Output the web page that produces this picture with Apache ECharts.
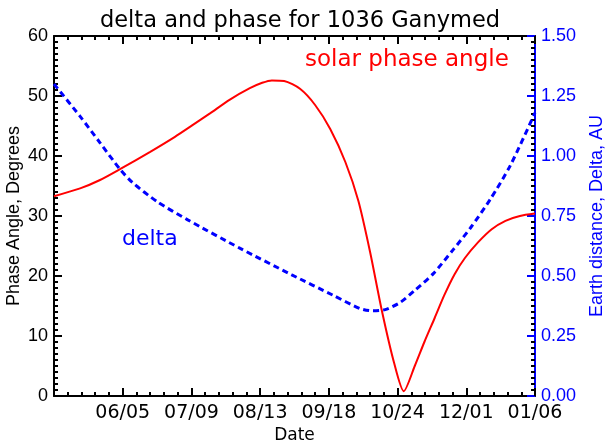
<!DOCTYPE html>
<html>
<head>
<meta charset="utf-8">
<script src="https://cdn.jsdelivr.net/npm/echarts@6/dist/echarts.min.js"></script>
<style>
  html, body { margin: 0; padding: 0; background: #fff; }
  #chart { width: 608px; height: 445px; }
</style>
</head>
<body>
<div id="chart"></div>
<script>
// x positions are in units of major ticks (0 = left edge, 7 = right edge)
const tickLabels = ['', '06/05', '07/09', '08/13', '09/18', '10/24', '12/01', '01/06']

const phaseX = [0, 0.38, 0.67, 0.96, 1.40, 1.76, 2.01, 2.27, 2.56, 2.85, 3.03, 3.17, 3.35, 3.58, 3.80,
  4.02, 4.24, 4.43, 4.60, 4.77, 4.95, 5.09, 5.25, 5.39, 5.54, 5.68, 5.83, 5.98, 6.17, 6.37, 6.57, 6.78, 7.0]
const phaseDeg = [33.3, 34.6, 36.0, 37.8, 40.7, 43.2, 45.1, 47.1, 49.4, 51.3, 52.2, 52.6, 52.5, 51.2, 48.5,
  44.5, 39.0, 32.5, 24.0, 14.3, 5.5, 0.8, 5.0, 9.0, 13.0, 16.8, 20.3, 23.0, 25.6, 27.8, 29.2, 30.0, 30.4]

const deltaX = [0, 0.38, 0.67, 0.96, 1.14, 1.50, 1.94, 2.71, 3.46, 4.06, 4.45, 4.63, 4.82,
  5.04, 5.25, 5.52, 5.81, 6.06, 6.35, 6.64, 7.0]
const deltaAU = [1.30, 1.165, 1.055, 0.945, 0.89, 0.81, 0.735, 0.615, 0.505, 0.42, 0.365, 0.355, 0.36,
  0.39, 0.44, 0.51, 0.61, 0.70, 0.82, 0.96, 1.18]

const RED = '#ff0000'
const BLUE = '#0000ff'
const hershey = '"DejaVu Sans", sans-serif'
const helv = '"Liberation Sans", Arial, sans-serif'

const chart = echarts.init(document.getElementById('chart'))

function xAxisBase(pos) {
  return {
    type: 'value',
    position: pos,
    min: 0,
    max: 7,
    interval: 1,
    axisLine: { show: true, onZero: false, lineStyle: { color: '#000', width: 2 } },
    axisTick: { show: true, inside: true, length: 8, lineStyle: { color: '#000', width: 2 } },
    minorTick: { show: true, inside: true, splitNumber: 5, length: 4, lineStyle: { color: '#000', width: 2 } },
    splitLine: { show: false },
    minorSplitLine: { show: false },
  }
}

chart.setOption({
  animation: false,
  title: {
    text: 'delta and phase for 1036 Ganymed',
    left: 295,
    textAlign: 'center',
    top: 5,
    textStyle: { fontFamily: hershey, fontSize: 22.5, fontWeight: 'normal', color: '#000' },
  },
  grid: { left: 54, right: 73, top: 36, bottom: 49, containLabel: false, outerBoundsMode: 'none' },
  xAxis: [
    {
      ...xAxisBase('bottom'),
      name: 'Date',
      nameLocation: 'middle',
      nameGap: 31,
      nameMoveOverlap: false,
      nameTextStyle: { fontFamily: hershey, fontSize: 17, color: '#000' },
      axisLabel: {
        margin: 8,
        fontFamily: hershey,
        fontSize: 19,
        color: '#000',
        showMinLabel: true,
        showMaxLabel: true,
        formatter: (v) => tickLabels[Math.round(v)] || '',
      },
    },
    { ...xAxisBase('top'), axisLabel: { show: false } },
  ],
  yAxis: [
    {
      type: 'value',
      position: 'left',
      min: 0,
      max: 60,
      interval: 10,
      name: 'Phase Angle, Degrees',
      nameLocation: 'middle',
      nameGap: 31,
      nameMoveOverlap: false,
      nameTextStyle: { fontFamily: helv, fontSize: 18, color: '#000' },
      axisLine: { show: true, onZero: false, lineStyle: { color: '#000', width: 2 } },
      axisTick: { show: true, inside: true, length: 8, lineStyle: { color: '#000', width: 2 } },
      minorTick: { show: true, inside: true, splitNumber: 10, length: 4, lineStyle: { color: '#000', width: 2 } },
      splitLine: { show: false },
      axisLabel: { margin: 6, fontFamily: helv, fontSize: 18, color: '#000' },
    },
    {
      type: 'value',
      position: 'right',
      min: 0,
      max: 1.5,
      interval: 0.25,
      name: 'Earth distance, Delta, AU',
      nameLocation: 'middle',
      nameGap: 53,
      nameMoveOverlap: false,
      nameTextStyle: { fontFamily: helv, fontSize: 18, color: BLUE },
      axisLine: { show: true, onZero: false, lineStyle: { color: BLUE, width: 2 } },
      axisTick: { show: true, inside: true, length: 8, lineStyle: { color: BLUE, width: 2 } },
      minorTick: { show: true, inside: true, splitNumber: 10, length: 4, lineStyle: { color: '#000', width: 2 } },
      splitLine: { show: false },
      axisLabel: { margin: 6, fontFamily: helv, fontSize: 18, color: BLUE, formatter: (v) => v.toFixed(2) },
    },
  ],
  graphic: [
    {
      type: 'text',
      left: 305,
      top: 49,
      style: { text: 'solar phase angle', fill: RED, font: '23px ' + hershey },
    },
    {
      type: 'text',
      left: 122,
      top: 228,
      style: { text: 'delta', fill: BLUE, font: '22px ' + hershey },
    },
  ],
  series: [
    {
      name: 'phase',
      type: 'line',
      xAxisIndex: 0,
      yAxisIndex: 0,
      data: phaseX.map((x, i) => [x, phaseDeg[i]]),
      showSymbol: false,
      smooth: 0.25,
      lineStyle: { color: RED, width: 2 },
    },
    {
      name: 'delta',
      type: 'line',
      xAxisIndex: 0,
      yAxisIndex: 1,
      data: deltaX.map((x, i) => [x, deltaAU[i]]),
      showSymbol: false,
      smooth: 0.25,
      lineStyle: { color: BLUE, width: 3, type: [6, 4] },
    },
  ],
})
</script>
</body>
</html>
